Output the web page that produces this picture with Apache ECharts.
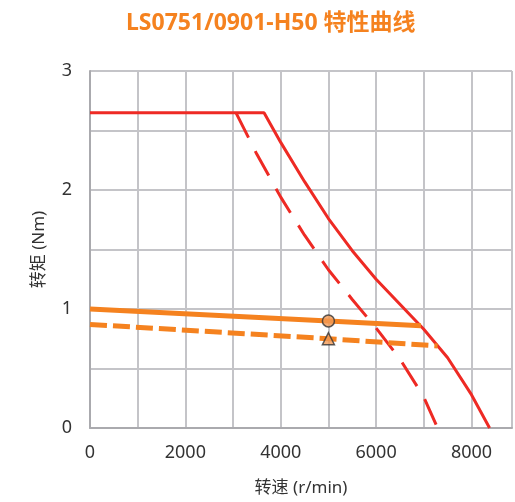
<!DOCTYPE html>
<html><head><meta charset="utf-8">
<script src="https://cdn.jsdelivr.net/npm/echarts@6/dist/echarts.min.js"></script>
<style>html,body{margin:0;padding:0;background:#fff}#c{width:515px;height:502px}</style>
</head><body><div id="c"></div>
<script>
const titleText = 'LS0751/0901-H50 特性曲线';
const xName = '转速 (r/min)';
const yName = '转矩 (Nm)';
// peak torque (solid red)
const peakSpeed  = [0, 3650, 4000, 4500, 5000, 5500, 6000, 6500, 7000, 7500, 8000, 8380];
const peakTorque = [2.65, 2.65, 2.40, 2.07, 1.76, 1.49, 1.25, 1.04, 0.83, 0.59, 0.28, 0];
// peak torque, lower voltage (dashed red) - branch after the flat part shared with the solid curve
const peak2Speed  = [3060, 3500, 4000, 4500, 5000, 5500, 6000, 6500, 7000, 7290];
const peak2Torque = [2.65, 2.30, 1.94, 1.62, 1.33, 1.08, 0.84, 0.58, 0.26, 0];
// continuous torque (solid orange)
const contSpeed  = [0, 5000, 6940];
const contTorque = [1.0, 0.9, 0.86];
// continuous torque, lower voltage (dashed orange)
const cont2Speed  = [0, 5000, 7290];
const cont2Torque = [0.87, 0.75, 0.69];
// rated points
const ratedCircle = [5000, 0.9];
const ratedTriangle = [5000, 0.75];

const zip = (a, b) => a.map((v, i) => [v, b[i]]);
const red = '#ee2a24', orange = '#f5821f', gridC = '#c4c4c8';
const font = "'Noto Sans','Noto Sans CJK SC',sans-serif";

const chart = echarts.init(document.getElementById('c'));
chart.setOption({
  animation: false,
  title: { text: titleText, left: 121, top: 7,
    textStyle: { color: orange, fontSize: 23, fontWeight: 'bold', fontFamily: font } },
  grid: { left: 90, right: 0, top: 71, bottom: 71 },
  xAxis: {
    type: 'value', min: 0, max: 8850, interval: 1000,
    name: xName, nameLocation: 'middle', nameGap: 52,
    nameTextStyle: { fontSize: 17, color: '#333', fontFamily: font },
    axisLine: { lineStyle: { color: '#aaaaae', width: 2 } },
    axisTick: { show: false },
    axisLabel: { fontSize: 18, color: '#333', margin: 16, fontFamily: font,
      formatter: v => (v % 2000 === 0 ? String(v) : '') },
    splitLine: { show: true, lineStyle: { color: gridC, width: 2 } }
  },
  yAxis: {
    type: 'value', min: 0, max: 3, interval: 0.5,
    name: yName, nameLocation: 'middle', nameGap: 42, nameRotate: 90,
    nameTextStyle: { fontSize: 17, color: '#333', fontFamily: font },
    axisLine: { show: true, lineStyle: { color: '#aaaaae', width: 2 } },
    axisTick: { show: false },
    axisLabel: { fontSize: 18, color: '#333', margin: 18, fontFamily: font,
      formatter: v => (Math.abs(v - Math.round(v)) < 1e-9 ? String(Math.round(v)) : '') },
    splitLine: { show: true, lineStyle: { color: gridC, width: 2 } }
  },
  series: [
    { type: 'line', data: zip(peakSpeed, peakTorque), showSymbol: false,
      lineStyle: { color: red, width: 3 } },
    { type: 'line', data: zip(peak2Speed, peak2Torque), showSymbol: false,
      lineStyle: { color: red, width: 3, type: [28, 15] } },
    { type: 'line', data: zip(contSpeed, contTorque), showSymbol: false,
      lineStyle: { color: orange, width: 5 } },
    { type: 'line', data: zip(cont2Speed, cont2Torque), showSymbol: false,
      lineStyle: { color: orange, width: 5, type: [17, 6] } },
    { type: 'scatter', data: [ratedCircle], symbol: 'circle', symbolSize: 12, z: 5,
      itemStyle: { color: '#f29a55', borderColor: '#333', borderWidth: 1.5 } },
    { type: 'scatter', data: [ratedTriangle], symbol: 'triangle', symbolSize: 12, z: 5,
      itemStyle: { color: '#f29a55', borderColor: '#333', borderWidth: 1.5 } }
  ]
});
</script></body></html>
